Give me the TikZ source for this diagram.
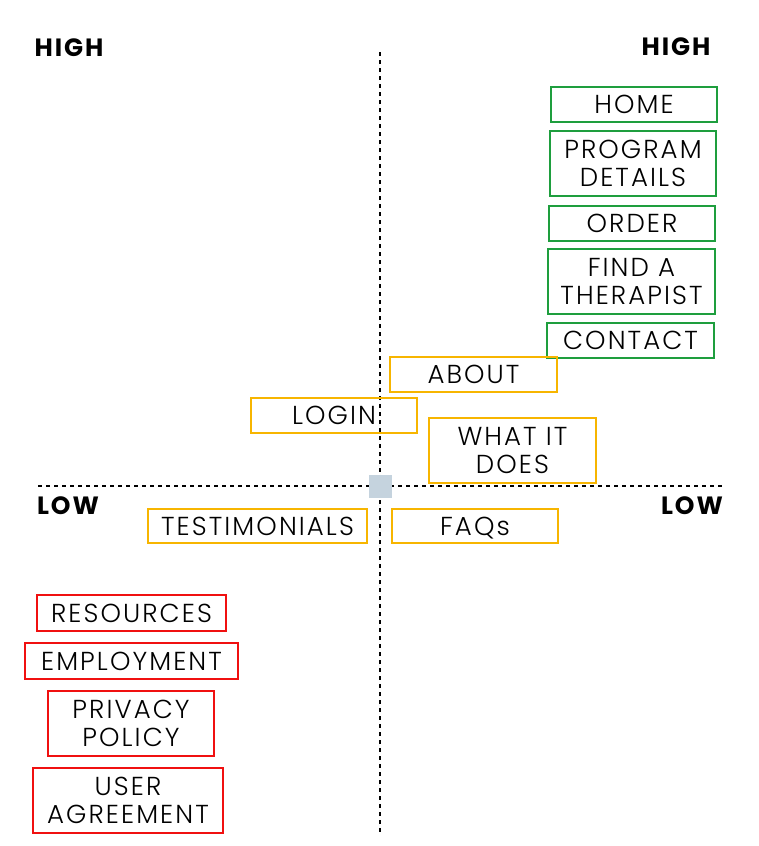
\documentclass[tikz,border=0pt]{standalone}
\usepackage{fontspec}
\setmainfont{Poppins}[UprightFont=* Light, BoldFont=* Bold, LetterSpace=8]
\definecolor{gbox}{HTML}{1E9E3E}
\definecolor{ybox}{HTML}{F7B500}
\definecolor{rbox}{HTML}{F01010}
\definecolor{sq}{HTML}{C5D3DE}
\tikzset{
  box/.style={draw=#1, line width=1.3pt, inner sep=0pt, align=center,
    font=\fontsize{26}{28.5}\selectfont, text height=18.5pt, text depth=0pt},
  box2/.style={draw=#1, line width=1.3pt, inner sep=0pt, align=center,
    font=\fontsize{26}{28.5}\selectfont},
  axis/.style={line width=1.8pt, dash pattern=on 4pt off 4pt},
  lvl/.style={font=\fontsize{25}{28}\selectfont\bfseries, inner sep=0pt}
}
\begin{document}
\begin{tikzpicture}[x=1pt,y=-1pt]
\useasboundingbox (0,0) rectangle (759,846);
\coordinate (vt) at (380,52);
\coordinate (vb) at (380,835);
\coordinate (hl) at (38,486);
\coordinate (hr) at (722,486);
\draw[axis] (vt) -- (vb);
\draw[axis] (hl) -- (hr);
\node[fill=sq, minimum size=23pt, inner sep=0pt] (origin) at (380.5,486.5) {};
\node[lvl] (hiL) at (69,48) {HIGH};
\node[lvl] (hiR) at (676,47) {HIGH};
\node[lvl] (loL) at (68,506) {LOW};
\node[lvl] (loR) at (692,506) {LOW};
% green
\node[box=gbox, minimum width=166pt, minimum height=35pt] (home) at (634,104.5) {HOME};
\node[box2=gbox, minimum width=166pt, minimum height=65pt] (prog) at (633,163.5) {PROGRAM\\DETAILS};
\node[box=gbox, minimum width=166pt, minimum height=35pt] (order) at (632,223.5) {ORDER};
\node[box2=gbox, minimum width=167pt, minimum height=65pt] (find) at (631.5,281.5) {FIND A\\THERAPIST};
\node[box=gbox, minimum width=167pt, minimum height=35pt] (contact) at (630.5,340.5) {CONTACT};
% yellow
\node[box=ybox, minimum width=167pt, minimum height=35pt] (about) at (473.5,374.5) {ABOUT};
\node[box=ybox, minimum width=166pt, minimum height=35pt] (login) at (334,415.5) {LOGIN};
\node[box2=ybox, minimum width=167pt, minimum height=65pt] (what) at (512.5,450.5) {WHAT IT\\DOES};
\node[box=ybox, minimum width=166pt, minimum height=34pt] (faq) at (475,526) {FAQs};
\node[box=ybox, minimum width=219pt, minimum height=34pt] (testi) at (257.5,526) {TESTIMONIALS};
% red
\node[box=rbox, minimum width=189pt, minimum height=36pt] (res) at (131.5,613) {RESOURCES};
\node[box=rbox, minimum width=213pt, minimum height=36pt] (emp) at (131.5,661) {EMPLOYMENT};
\node[box2=rbox, minimum width=166pt, minimum height=65pt] (priv) at (131,723.5) {PRIVACY\\POLICY};
\node[box2=rbox, minimum width=190pt, minimum height=65pt] (user) at (128,800.5) {USER\\AGREEMENT};
\end{tikzpicture}
\end{document}
